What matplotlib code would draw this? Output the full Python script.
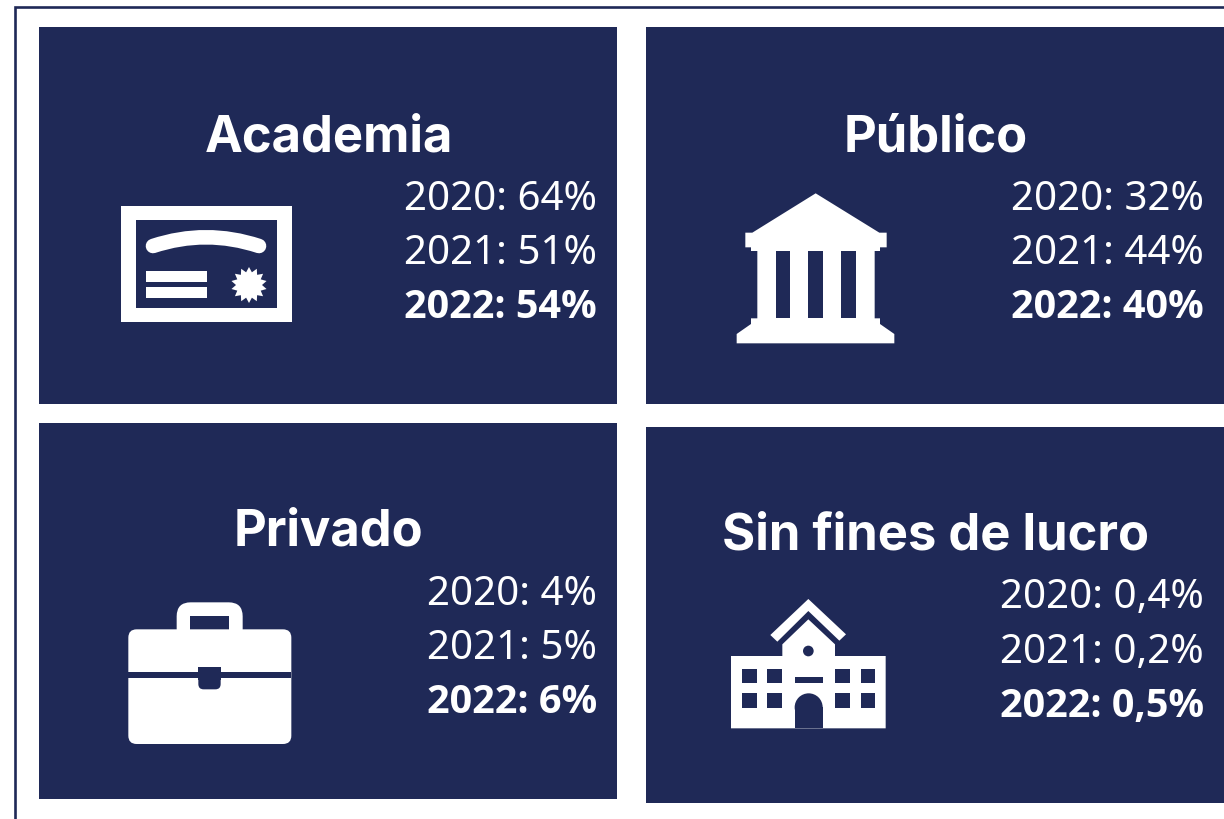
import numpy as np
import matplotlib
matplotlib.use('Agg')
import matplotlib.pyplot as plt
from matplotlib.patches import Rectangle, Polygon, Circle, FancyBboxPatch, PathPatch
from matplotlib.path import Path

# datos
sectores = ['Academia', 'Público', 'Privado', 'Sin fines de lucro']
anios = ['2020', '2021', '2022']
academia = ['64%', '51%', '54%']
publico = ['32%', '44%', '40%']
privado = ['4%', '5%', '6%']
sin_fines = ['0,4%', '0,2%', '0,5%']
valores = [academia, publico, privado, sin_fines]

AZUL = '#1F2957'
BLANCO = 'white'

# caja de cada panel: x0, y0, x1, y1 en pixeles
cajas = [(39, 27, 617, 404), (646, 27, 1224, 404), (39, 423, 617, 799), (646, 427, 1224, 803)]
titulo_y = [152, 152, 546, 550]
fila_y = [[210, 264, 318], [210, 264, 318], [605, 659, 713], [608, 663, 717]]

fig = plt.figure(figsize=(12.24, 8.19), dpi=100)
ax = fig.add_axes([0, 0, 1, 1])
ax.set_xlim(0, 1224)
ax.set_ylim(819, 0)
ax.axis('off')

# borde exterior
ax.plot([15, 15, 1224], [819, 7, 7], color=AZUL, lw=1.9, solid_joinstyle='miter')

for nombre, vals, caja, ty, filas in zip(sectores, valores, cajas, titulo_y, fila_y):
    x0, y0, x1, y1 = caja
    ax.add_patch(Rectangle((x0, y0), x1 - x0, y1 - y0, fc=AZUL, ec='none'))
    ax.text((x0 + x1) / 2 + 0.5, ty, nombre, color=BLANCO, ha='center', va='baseline',
            family=['Inter', 'DejaVu Sans'], fontweight='bold', fontsize=36.5)
    for i, (anio, v) in enumerate(zip(anios, vals)):
        if i == 2:
            # Noto Sans no trae negrita aqui
            ax.text(x1 - 20, filas[i], f'{anio}: {v}', color=BLANCO, ha='right', va='baseline',
                    family=['Open Sans', 'DejaVu Sans'], fontsize=28.5, fontweight='bold')
        else:
            ax.text(x1 - 20, filas[i], f'{anio}: {v}', color=BLANCO, ha='right', va='baseline',
                    family=['Noto Sans', 'DejaVu Sans'], fontsize=29)


def z(pts, x0, y0):
    # coordenadas del recorte 3x a pixeles
    return [(x0 + a / 3, y0 + b / 3) for a, b in pts]


def rect(x0, y0, a0, b0, a1, b1, color):
    ax.add_patch(Rectangle((x0 + a0 / 3, y0 + b0 / 3), (a1 - a0) / 3, (b1 - b0) / 3, fc=color, ec='none'))


def redondo(x0, y0, a0, b0, a1, b1, r, color):
    ax.add_patch(FancyBboxPatch((x0 + a0 / 3 + r / 3, y0 + b0 / 3 + r / 3), (a1 - a0 - 2 * r) / 3, (b1 - b0 - 2 * r) / 3,
                                boxstyle=f'round,pad={r / 3},rounding_size={r / 3}', fc=color, ec='none'))


# icono certificado
ox, oy = 100, 180
rect(ox, oy, 63, 77, 575, 427, BLANCO)
rect(ox, oy, 107, 120, 530, 383, AZUL)
arco = Path([(153, 246), (206, 228.5), (259, 246)], [Path.MOVETO, Path.CURVE3, Path.CURVE3])
ax.add_patch(PathPatch(arco, fc='none', ec=BLANCO, lw=10.5, capstyle='round'))
rect(ox, oy, 139, 273, 322, 305, BLANCO)
rect(ox, oy, 139, 322, 322, 354, BLANCO)
ang = np.linspace(0, 2 * np.pi, 28, endpoint=False) - np.pi / 2
rad = np.where(np.arange(28) % 2 == 0, 18, 13)
ax.add_patch(Polygon(np.c_[249 + rad * np.cos(ang), 285 + rad * np.sin(ang)], fc=BLANCO, ec='none'))

# icono edificio publico
ox, oy = 720, 180
templo = [(287, 40), (478, 158), (500, 158), (500, 202), (480, 202), (480, 213), (464, 213), (464, 415),
          (480, 415), (480, 432), (523, 462), (523, 490), (50, 490), (50, 462), (93, 432), (93, 415),
          (112, 415), (112, 213), (93, 213), (93, 202), (76, 202), (76, 158), (97, 158)]
ax.add_patch(Polygon(z(templo, ox, oy), fc=BLANCO, ec='none'))
for a in [167, 265, 364]:
    rect(ox, oy, a, 213, a + 43, 415, AZUL)

# icono maletin
ox, oy = 110, 590
redondo(ox, oy, 200, 37, 398, 160, 42, BLANCO)
rect(ox, oy, 241, 79, 357, 130, AZUL)
redondo(ox, oy, 55, 118, 544, 462, 25, BLANCO)
rect(ox, oy, 55, 245, 544, 263, AZUL)
redondo(ox, oy, 265, 255, 332, 298, 16, AZUL)
rect(ox, oy, 265, 232, 332, 270, AZUL)

# icono escuela
ox, oy = 715, 585
techo = [(280, 42), (393, 148), (373, 167), (280, 78), (187, 170), (166, 150)]
ax.add_patch(Polygon(z(techo, ox, oy), fc=BLANCO, ec='none'))
escuela = [(280, 103), (360, 178), (360, 213), (512, 213), (512, 430), (48, 430), (48, 213), (202, 213), (202, 178)]
ax.add_patch(Polygon(z(escuela, ox, oy), fc=BLANCO, ec='none'))
for a in [81, 157, 361, 437]:
    for b in [251, 325]:
        rect(ox, oy, a, b, a + 44, b + 43, AZUL)
rect(ox, oy, 239, 275, 323, 294, AZUL)
ax.add_patch(Circle((ox + 280 / 3, oy + 198 / 3), 16 / 3, fc=AZUL, ec='none'))
ax.add_patch(Circle((ox + 281 / 3, oy + 367 / 3), 42 / 3, fc=AZUL, ec='none'))
rect(ox, oy, 239, 367, 323, 430, AZUL)

fig.savefig('out.png', dpi=100, facecolor='white')
